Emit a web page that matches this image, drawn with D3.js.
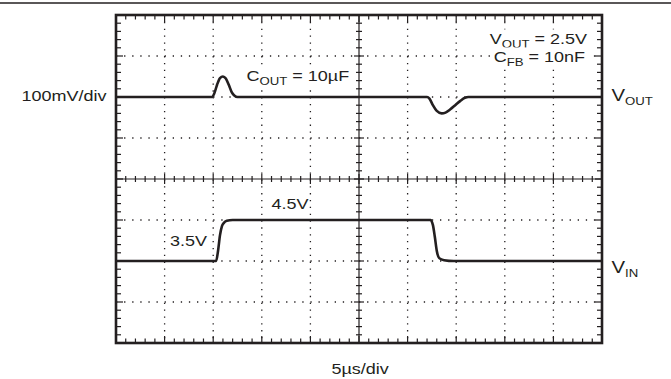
<!DOCTYPE html>
<html>
<head>
<meta charset="utf-8">
<script src="https://cdn.jsdelivr.net/npm/d3@7"></script>
<style>
  html, body { margin: 0; padding: 0; background: #fff; }
  svg { display: block; }
  text { font-family: "Liberation Sans", Arial, Helvetica, sans-serif; fill: #231f20; }
</style>
</head>
<body>
<svg id="chart" width="671" height="379"></svg>
<script>
// ---- data (time in divisions, level in divisions from screen centre) ----
const xDivisions = [0, 1, 2, 3, 4, 5, 6, 7, 8, 9, 10];
const yDivisions = [-4, -3, -2, -1, 0, 1, 2, 3, 4];

const voutTime  = [0, 1.97, 2.02, 2.08, 2.14, 2.2, 2.26, 2.32, 2.38, 2.44, 2.5, 6.4, 6.45, 6.52, 6.6, 6.7, 6.78, 6.88, 6.98, 7.08, 7.18, 7.25, 10];
const voutLevel = [2, 2, 2.08, 2.3, 2.46, 2.5, 2.45, 2.3, 2.12, 2.03, 2, 2, 1.96, 1.8, 1.66, 1.6, 1.62, 1.7, 1.8, 1.9, 1.98, 2, 2];

const vinTime  = [0, 2.06, 2.1, 2.14, 2.18, 2.22, 2.28, 2.4, 6.47, 6.52, 6.56, 6.6, 6.65, 6.75, 6.95, 10];
const vinLevel = [-2, -2, -1.75, -1.37, -1.15, -1.07, -1.02, -1, -1, -1.12, -1.41, -1.75, -1.93, -1.98, -2, -2];

const scaleLabels = { vertical: "100mV/div", horizontal: "5µs/div" };
const annotations = { cout: "10µF", vout: "2.5V", cfb: "10nF", vinLow: "3.5V", vinHigh: "4.5V" };

// ---- layout ----
const svg = d3.select("#chart");
const L = 116, R = 602, T = 15, B = 343;
const x = d3.scaleLinear().domain([0, 10]).range([L, R]);
const y = d3.scaleLinear().domain([-4, 4]).range([B, T]);
const ink = "#231f20";

// top rule
svg.append("line").attr("x1", 0).attr("x2", 671).attr("y1", 3).attr("y2", 3)
  .attr("stroke", ink).attr("stroke-width", 1.6);

// dotted grid
const g = svg.append("g");
g.selectAll(".gx").data(xDivisions.filter(d => d > 0 && d < 10 && d !== 5)).join("line")
  .attr("x1", d => x(d)).attr("x2", d => x(d)).attr("y1", T).attr("y2", B)
  .attr("stroke", ink).attr("stroke-width", 1.3).attr("stroke-dasharray", "1.3,5.55");
g.selectAll(".gy").data(yDivisions.filter(d => d > -4 && d < 4 && d !== 0)).join("line")
  .attr("x1", L).attr("x2", R).attr("y1", d => y(d)).attr("y2", d => y(d))
  .attr("stroke", ink).attr("stroke-width", 1.3).attr("stroke-dasharray", "1.3,6.8");

// centre axes
g.append("line").attr("x1", L).attr("x2", R).attr("y1", y(0)).attr("y2", y(0))
  .attr("stroke", ink).attr("stroke-width", 1.2);
g.append("line").attr("x1", x(5)).attr("x2", x(5)).attr("y1", T).attr("y2", B)
  .attr("stroke", ink).attr("stroke-width", 1.2);

// ticks
const xMinor = d3.range(0, 50).map(i => i / 5);
const yMinor = d3.range(0, 40).map(i => -4 + i / 5);
const isMajor = v => Math.abs(v - Math.round(v)) < 1e-6;
const tk = svg.append("g").attr("stroke", ink).attr("stroke-width", 1.2);
xMinor.forEach(v => {
  const len = isMajor(v) ? 7 : 4.5;
  const px = x(v);
  tk.append("line").attr("x1", px).attr("x2", px).attr("y1", T).attr("y2", T + len);
  tk.append("line").attr("x1", px).attr("x2", px).attr("y1", B).attr("y2", B - len);
  const c = isMajor(v) ? 5 : 3;
  tk.append("line").attr("x1", px).attr("x2", px).attr("y1", y(0) - c).attr("y2", y(0) + c);
});
yMinor.forEach(v => {
  const len = isMajor(v) ? 7 : 5;
  const py = y(v);
  tk.append("line").attr("x1", L).attr("x2", L + len).attr("y1", py).attr("y2", py);
  tk.append("line").attr("x1", R).attr("x2", R - len).attr("y1", py).attr("y2", py);
  const c = isMajor(v) ? 5 : 3;
  tk.append("line").attr("x1", x(5) - c).attr("x2", x(5) + c).attr("y1", py).attr("y2", py);
});

// frame
svg.append("rect").attr("x", L).attr("y", T).attr("width", R - L).attr("height", B - T)
  .attr("fill", "none").attr("stroke", ink).attr("stroke-width", 2.6);

// traces
const line = d3.line().x(d => x(d[0])).y(d => y(d[1])).curve(d3.curveMonotoneX);
svg.append("path").datum(d3.zip(voutTime, voutLevel)).attr("d", line)
  .attr("fill", "none").attr("stroke", ink).attr("stroke-width", 2.6).attr("stroke-linejoin", "round");
svg.append("path").datum(d3.zip(vinTime, vinLevel)).attr("d", line)
  .attr("fill", "none").attr("stroke", ink).attr("stroke-width", 2.6).attr("stroke-linejoin", "round");

// labels
const SX = 1.2, FS = 15, SUB = 11;
function label(px, py, parts, anchor, size, bg) {
  const grp = svg.append("g").attr("transform", `translate(${px},${py}) scale(${SX},1)`);
  const bgRect = grp.append("rect").attr("fill", "#fff");
  const t = grp.append("text")
    .attr("text-anchor", anchor || "start")
    .attr("font-size", size || FS);
  parts.forEach(p => {
    const s = t.append("tspan").text(p[0]);
    if (p[1] === "sub") s.attr("font-size", SUB).attr("dy", 3.5);
    else if (p[1] === "up") s.attr("dy", -3.5);
  });
  if (bg) {
    const b = t.node().getBBox();
    bgRect.attr("x", b.x - 3).attr("y", b.y - 1).attr("width", b.width + 6).attr("height", b.height + 1);
  } else bgRect.remove();
  return t;
}
label(21.5, 101, [[scaleLabels.vertical]]);
label(331.5, 374, [[scaleLabels.horizontal]]);
label(246.5, 81, [["C"], ["OUT", "sub"], [" = " + annotations.cout, "up"]], "start", FS, true);
label(587, 44, [["V"], ["OUT", "sub"], [" = " + annotations.vout, "up"]], "end", FS, true);
label(585, 62, [["C"], ["FB", "sub"], [" = " + annotations.cfb, "up"]], "end", FS, true);
label(611.5, 101, [["V", null], ["OUT", "sub"]], "start", 17);
label(611.5, 273, [["V", null], ["IN", "sub"]], "start", 17);
label(271.5, 209, [[annotations.vinHigh]]);
label(170, 246, [[annotations.vinLow]]);
</script>
</body>
</html>
